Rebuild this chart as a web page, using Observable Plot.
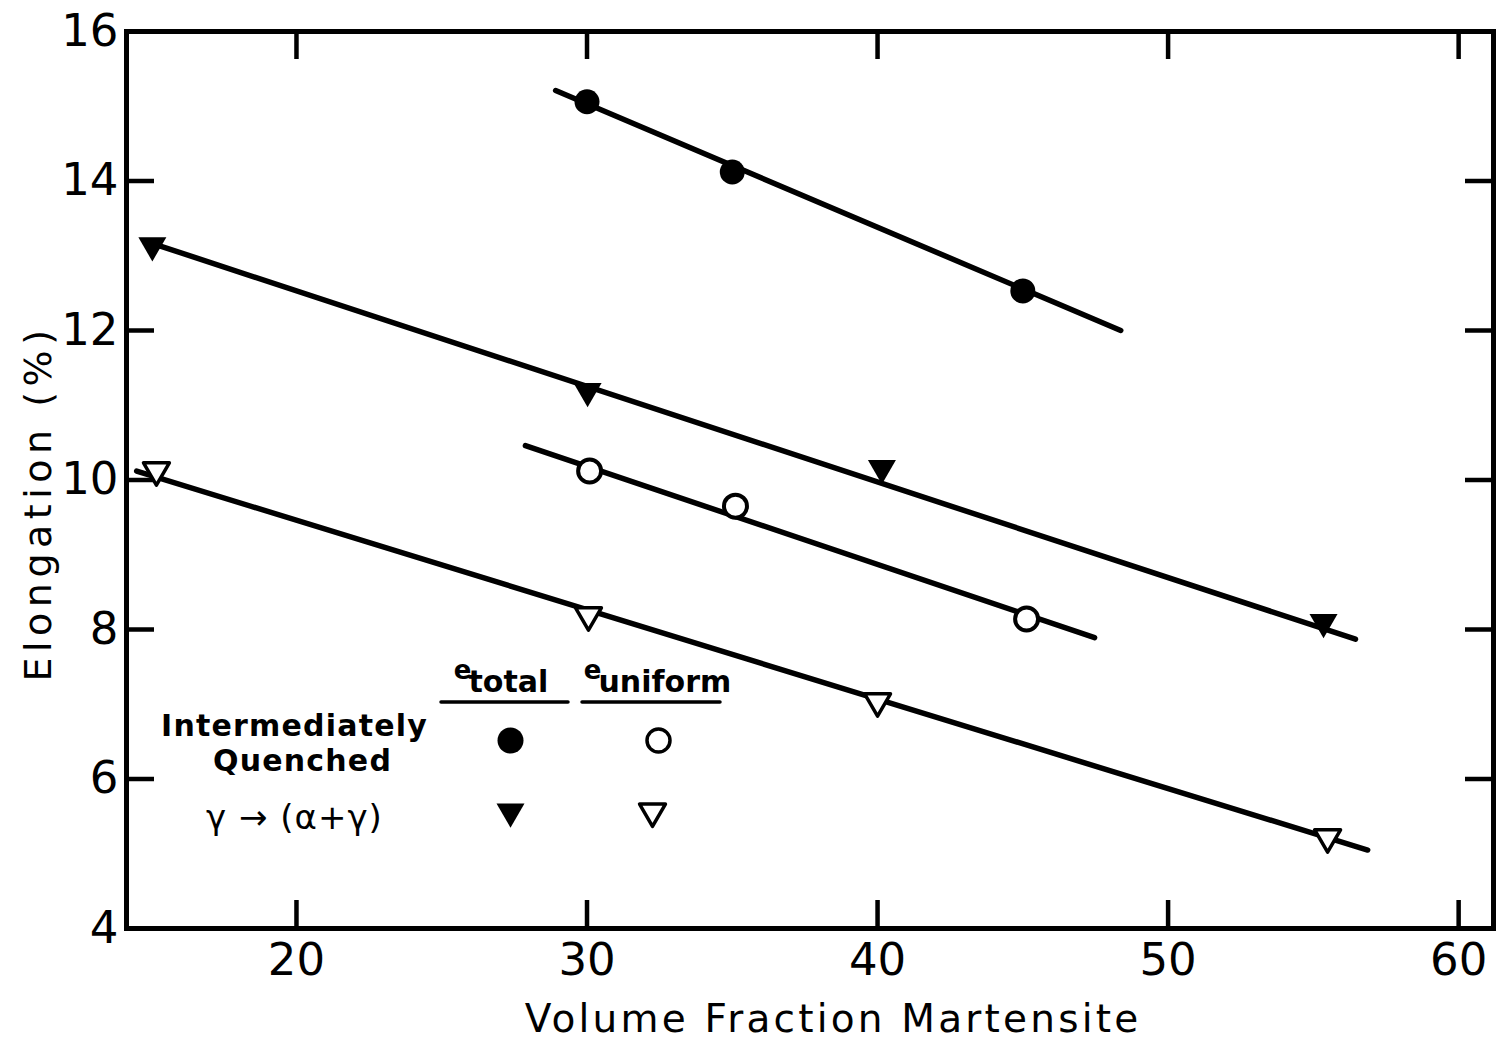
<!DOCTYPE html>
<html><head><meta charset="utf-8">
<script src="https://cdn.jsdelivr.net/npm/d3@7"></script>
<script src="https://cdn.jsdelivr.net/npm/@observablehq/plot@0.6"></script>
<style>body{margin:0;background:#fff} #chart{width:1497px;height:1049px}</style>
</head><body><div id="chart"></div>
<script>
// ---- tick values ----
const xTicks = [20, 30, 40, 50, 60];
const yTicks = [4, 6, 8, 10, 12, 14, 16];
const yInnerTicks = [6, 8, 10, 12, 14];

// ---- data ----
// Intermediately quenched, e_total (filled circles)
const iqTotalX = [30, 35, 45];
const iqTotalY = [15.06, 14.12, 12.53];
// gamma -> (alpha+gamma), e_total (filled triangles)
const gaTotalX = [15.04, 30.02, 40.15, 55.35];
const gaTotalY = [13.14, 11.19, 10.16, 8.10];
// Intermediately quenched, e_uniform (open circles)
const iqUnifX = [30.09, 35.11, 45.13];
const iqUnifY = [10.12, 9.65, 8.14];
// gamma -> (alpha+gamma), e_uniform (open triangles)
const gaUnifX = [15.18, 30.05, 40.0, 55.49];
const gaUnifY = [10.13, 8.19, 7.04, 5.22];

// fitted straight lines (end points)
const iqTotalLineX = [28.92, 48.37];
const iqTotalLineY = [15.21, 12.00];
const gaTotalLineX = [15.0, 56.45];
const gaTotalLineY = [13.17, 7.87];
const iqUnifLineX = [27.88, 47.47];
const iqUnifLineY = [10.46, 7.89];
const gaUnifLineX = [14.5, 56.87];
const gaUnifLineY = [10.12, 5.05];

const pts = (xs, ys) => xs.map((x, i) => ({x, y: ys[i]}));

const W = 1497, H = 1049, mL = 126, mR = 4, mT = 31, mB = 121;
const plotW = W - mL - mR, plotH = H - mT - mB;
const TL = 28; // inward tick length

const lineOpts = {x: "x", y: "y", stroke: "black", strokeWidth: 5.5, strokeLinecap: "round"};

// legend underline render mark
const underlines = (index, scales, values, dims) => {
  const g = d3.create("svg:g").attr("stroke", "black").attr("stroke-width", 3.5).attr("stroke-linecap", "round");
  const ox = dims.marginLeft, oy = dims.marginTop;
  [[315, 442], [456, 594]].forEach(([a, b]) => {
    g.append("line").attr("x1", ox + a).attr("x2", ox + b).attr("y1", oy + 671).attr("y2", oy + 671);
  });
  return g.node();
};

const font = "DejaVu Sans";
const lg = {frameAnchor: "top-left", textAnchor: "middle", lineAnchor: "middle"};
const chart = Plot.plot({
  width: W, height: H,
  marginLeft: mL, marginRight: mR, marginTop: mT, marginBottom: mB,
  x: {domain: [14.15, 61.2]},
  y: {domain: [4, 16]},
  style: {fontFamily: font, background: "white", color: "black"},
  marks: [
    Plot.frame({stroke: "black", strokeWidth: 5}),
    // inward ticks
    Plot.tickX(xTicks, {x: d => d, insetTop: plotH - TL, strokeWidth: 4.5}),
    Plot.tickX(xTicks, {x: d => d, insetBottom: plotH - TL, strokeWidth: 4.5}),
    Plot.tickY(yInnerTicks, {y: d => d, insetRight: plotW - TL, strokeWidth: 4.5}),
    Plot.tickY(yInnerTicks, {y: d => d, insetLeft: plotW - TL, strokeWidth: 4.5}),
    // tick labels
    Plot.axisX(xTicks, {anchor: "bottom", tickSize: 0, tickPadding: 15, fontSize: 45, label: null, tickFormat: d => d}),
    Plot.axisY(yTicks, {anchor: "left", tickSize: 0, tickPadding: 8, fontSize: 45, label: null, tickFormat: d => d}),
    // axis titles
    Plot.text(["Volume Fraction Martensite"], {frameAnchor: "bottom", textAnchor: "middle", lineAnchor: "middle", dx: 23, dy: 91, fontSize: 39}),
    Plot.text(["Elongation (%)"], {frameAnchor: "left", textAnchor: "middle", lineAnchor: "middle", dx: -88, dy: 23, rotate: -90, fontSize: 38}),
    // fitted lines
    Plot.line(pts(iqTotalLineX, iqTotalLineY), lineOpts),
    Plot.line(pts(gaTotalLineX, gaTotalLineY), lineOpts),
    Plot.line(pts(iqUnifLineX, iqUnifLineY), lineOpts),
    Plot.line(pts(gaUnifLineX, gaUnifLineY), lineOpts),
    // data points
    Plot.dot(pts(iqTotalX, iqTotalY), {x: "x", y: "y", r: 12.5, fill: "black", symbol: "circle"}),
    Plot.dot(pts(gaTotalX, gaTotalY), {x: "x", y: "y", r: 10.4, fill: "black", symbol: "triangle", rotate: 180}),
    Plot.dot(pts(iqUnifX, iqUnifY), {x: "x", y: "y", r: 11.5, fill: "white", stroke: "black", strokeWidth: 4, symbol: "circle"}),
    Plot.dot(pts(gaUnifX, gaUnifY), {x: "x", y: "y", r: 9.6, fill: "white", stroke: "black", strokeWidth: 3.5, symbol: "triangle", rotate: 180, strokeLinejoin: "round"}),
    // legend
    Plot.text(["Intermediately"], {...lg, dx: 168, dy: 695, fontSize: 30, fontWeight: "bold"}),
    Plot.text(["Quenched"], {...lg, dx: 176, dy: 730, fontSize: 30, fontWeight: "bold"}),
    Plot.text(["γ → (α+γ)"], {...lg, dx: 168, dy: 787, fontSize: 34}),
    Plot.text(["e"], {...lg, dx: 336, dy: 639, fontSize: 26, fontWeight: "bold"}),
    Plot.text(["total"], {...lg, textAnchor: "start", dx: 342, dy: 651, fontSize: 30, fontWeight: "bold"}),
    Plot.text(["e"], {...lg, dx: 466, dy: 639, fontSize: 26, fontWeight: "bold"}),
    Plot.text(["uniform"], {...lg, textAnchor: "start", dx: 472, dy: 651, fontSize: 30, fontWeight: "bold"}),
    underlines,
    Plot.dot([0], {frameAnchor: "top-left", dx: 384, dy: 709, r: 13, fill: "black"}),
    Plot.dot([0], {frameAnchor: "top-left", dx: 532, dy: 709, r: 11.5, fill: "white", stroke: "black", strokeWidth: 3.5}),
    Plot.dot([0], {frameAnchor: "top-left", dx: 384, dy: 780, r: 10.4, fill: "black", symbol: "triangle", rotate: 180}),
    Plot.dot([0], {frameAnchor: "top-left", dx: 526, dy: 780, r: 9.6, fill: "white", stroke: "black", strokeWidth: 3.5, symbol: "triangle", rotate: 180, strokeLinejoin: "round"})
  ]
});
// letter spacing for titles (not a Plot option)
const spacing = {"Volume Fraction Martensite": 3.2, "Elongation (%)": 5.5, "Intermediately": 1.2, "Quenched": 1.2, "γ → (α+γ)": 1};
d3.select(chart).selectAll("text").each(function () {
  const s = spacing[this.textContent];
  if (s != null) this.setAttribute("letter-spacing", s);
});
document.getElementById("chart").appendChild(chart);
</script>
</body></html>
